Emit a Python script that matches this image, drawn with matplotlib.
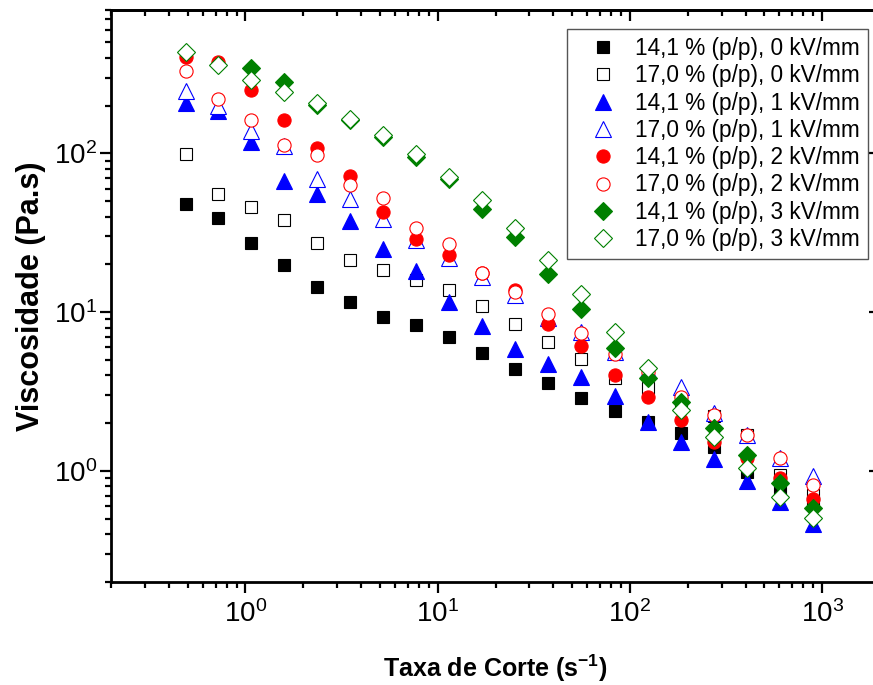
import numpy as np
import matplotlib
matplotlib.use("Agg")
import matplotlib.pyplot as plt
from matplotlib.ticker import LogLocator, NullFormatter

plt.rcParams['font.family'] = ['Liberation Sans', 'DejaVu Sans']
plt.rcParams['mathtext.fontset'] = 'custom'
plt.rcParams['mathtext.rm'] = 'Liberation Sans'
plt.rcParams['mathtext.bf'] = 'Liberation Sans:bold'

# shear rate (1/s)
taxa = [0.49, 0.72, 1.07, 1.59, 2.37, 3.51, 5.22, 7.75, 11.5, 17.1,
        25.4, 37.7, 56.0, 83.2, 124, 184, 273, 405, 601, 893]

# viscosity (Pa.s) for each concentration / field
v14_0 = [47.8, 39.2, 27.3, 19.8, 14.4, 11.6, 9.34, 8.28, 6.93, 5.50,
         4.38, 3.59, 2.87, 2.39, 2.04, 1.74, 1.42, 0.99, 0.76, 0.64]
v17_0 = [98.6, 55.8, 45.9, 37.9, 27.4, 21.2, 18.4, 15.9, 13.7, 10.96,
         8.37, 6.45, 5.05, 3.85, 3.31, 2.80, 2.23, 1.68, 0.94, 0.71]
v14_1 = [207, 184.5, 118, 67.3, 55.6, 37.4, 25.0, 18.3, 11.6, 8.20,
         5.83, 4.71, 3.88, 2.98, 2.03, 1.52, 1.19, 0.87, 0.636, 0.464]
v17_1 = [247, 199.5, 138.6, 110.7, 69.3, 51.9, 38.5, 28.5, 21.9, 16.7,
         12.8, 9.17, 7.48, 5.60, 4.32, 3.36, 2.32, 1.68, 1.20, 0.93]
v14_2 = [403, 375, 252, 161.3, 108.6, 71.7, 42.7, 28.7, 22.8, 17.6,
         13.7, 8.41, 6.11, 4.05, 2.91, 2.08, 1.53, 1.21, 0.90, 0.667]
v17_2 = [329.5, 221, 163, 112.3, 97.1, 62.9, 52.7, 34.1, 26.8, 17.6,
         13.4, 9.76, 7.35, 5.44, 4.20, 2.93, 2.25, 1.68, 1.21, 0.817]
v14_3 = [np.nan, np.nan, 344, 281, 200.4, 161.3, 126, 94.4, 68.6, 44.9,
         29.8, 17.5, 10.5, 5.94, 3.86, 2.73, 1.86, 1.26, 0.837, 0.582]
v17_3 = [434, 361, 288, 243, 207, 165.3, 129.8, 98.6, 71.0, 51.0,
         34.1, 21.4, 13.1, 7.54, 4.43, 2.42, 1.64, 1.05, 0.689, 0.504]

series = [
    (v14_0, '14,1 % (p/p), 0 kV/mm', 's', 'black', True, 8),
    (v17_0, '17,0 % (p/p), 0 kV/mm', 's', 'black', False, 8),
    (v14_1, '14,1 % (p/p), 1 kV/mm', '^', 'blue', True, 11),
    (v17_1, '17,0 % (p/p), 1 kV/mm', '^', 'blue', False, 11),
    (v14_2, '14,1 % (p/p), 2 kV/mm', 'o', 'red', True, 9.5),
    (v17_2, '17,0 % (p/p), 2 kV/mm', 'o', 'red', False, 9.5),
    (v14_3, '14,1 % (p/p), 3 kV/mm', 'D', 'green', True, 9),
    (v17_3, '17,0 % (p/p), 3 kV/mm', 'D', 'green', False, 9),
]

fig = plt.figure(figsize=(8.73, 6.85), dpi=100)
ax = fig.add_axes([111/873, 103/685, 769/873, 572/685])

for vals, lab, mk, col, filled, ms in series:
    ax.plot(taxa, vals, linestyle='none', marker=mk, markersize=ms,
            markerfacecolor=col if filled else 'white',
            markeredgecolor=col, markeredgewidth=0.8, label=lab)

ax.set_xscale('log')
ax.set_yscale('log')
ax.set_xlim(0.2, 2000)
ax.set_ylim(0.2, 800)

for s in ax.spines.values():
    s.set_linewidth(2.0)

for a in (ax.xaxis, ax.yaxis):
    a.set_major_locator(LogLocator(base=10, numticks=10))
    a.set_minor_locator(LogLocator(base=10, subs=np.arange(2, 10), numticks=10))
    a.set_minor_formatter(NullFormatter())

ax.tick_params(which='major', direction='out', length=8, width=1.6,
               labelsize=20, pad=2)
ax.tick_params(which='minor', direction='out', length=4.5, width=1.6)
ax.tick_params(axis='x', which='major', pad=5)

# mirrored ticks on top and right, pointing the same way as bottom/left
top = ax.secondary_xaxis('top')
right = ax.secondary_yaxis('right')
for sec, a in ((top, top.xaxis), (right, right.yaxis)):
    sec.tick_params(which='major', direction='in', length=8, width=1.6)
    sec.tick_params(which='minor', direction='in', length=4.5, width=1.6)
    a.set_major_locator(LogLocator(base=10, numticks=10))
    a.set_minor_locator(LogLocator(base=10, subs=np.arange(2, 10), numticks=10))
    a.set_major_formatter(NullFormatter())
    a.set_minor_formatter(NullFormatter())
    sec.spines[:].set_linewidth(2.0)

ax.set_xlabel('Taxa de Corte (s$^{\\mathbf{-1}}$)', fontsize=18,
              fontweight='bold', labelpad=18)
ax.set_ylabel('Viscosidade (Pa.s)', fontsize=22, fontweight='bold',
              labelpad=6)

leg = ax.legend(loc='upper right', bbox_to_anchor=(868/873, 1 - 29/685),
                bbox_transform=fig.transFigure, fontsize=16.3, numpoints=1,
                fancybox=False, framealpha=1, edgecolor='#555555',
                borderpad=0.35, labelspacing=0.19, handlelength=2.46,
                handletextpad=0.2, borderaxespad=0)
leg.get_frame().set_linewidth(1.0)

fig.savefig('out.png', dpi=100)
